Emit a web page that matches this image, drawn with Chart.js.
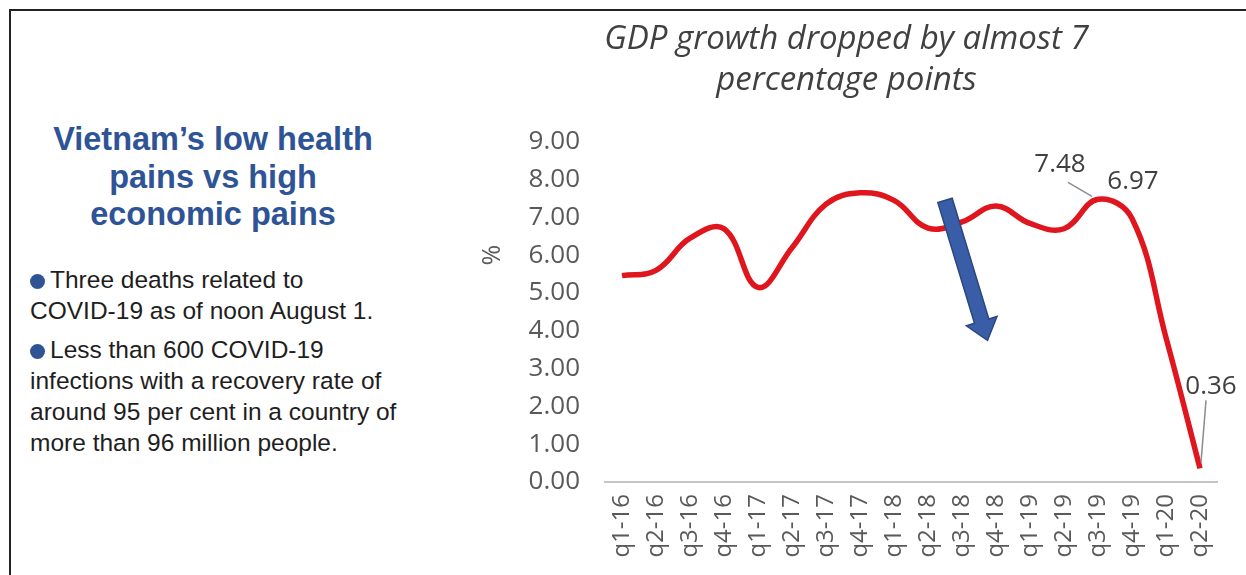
<!DOCTYPE html>
<html>
    <head>
        <meta charset="UTF-8">
        <title>Vietnam GDP growth</title>
        <style>
            body { margin: 0; background: #fff; width: 1246px; height: 575px; overflow: hidden; position: relative; }
            #frame { position: absolute; left: 9px; top: 9px; width: 1260px; height: 590px; border: 2px solid #222; box-sizing: border-box; }
            #side { position: absolute; left: 22px; top: 0; width: 400px; font-family: "Liberation Sans", Arial, sans-serif; }
            #side h2 { position: absolute; top: 121px; left: 0px; width: 382px; margin: 0; text-align: center; color: #2F5496; font-size: 32.5px; line-height: 37.5px; font-weight: bold; white-space: nowrap; }
            #side p { position: absolute; left: 8px; margin: 0; color: #1e1e1e; font-size: 24.5px; line-height: 31px; white-space: nowrap; }
            .dot { display: inline-block; width: 15px; height: 15px; border-radius: 50%; background: #2F5496; margin-right: 5px; vertical-align: -1px; }
            #wrap { position: absolute; left: 0; top: 0; width: 1246px; height: 575px; }
        </style>
    </head>
    <body>
        <div id="frame"></div>
        <div id="side">
            <h2>Vietnam’s low health<br>pains vs high<br>economic pains</h2>
            <p style="top:264px"><span class="dot"></span>Three deaths related to<br>COVID-19 as of noon August 1.</p>
            <p style="top:334px"><span class="dot"></span>Less than 600 COVID-19<br>infections with a recovery rate of<br>around 95 per cent in a country of<br>more than 96 million people.</p>
        </div>
        <div id="wrap"><canvas id="myChart" width="1246" height="575"></canvas></div>
    </body>
    <script src="https://cdn.jsdelivr.net/npm/chart.js@4.4.0/dist/chart.umd.min.js"></script>
    <script>
    var quarters = ['q1-16', 'q2-16', 'q3-16', 'q4-16', 'q1-17', 'q2-17', 'q3-17', 'q4-17', 'q1-18',
                    'q2-18', 'q3-18', 'q4-18', 'q1-19', 'q2-19', 'q3-19', 'q4-19', 'q1-20', 'q2-20']
    var gdpGrowth = [5.46, 5.6, 6.45, 6.7, 5.15, 6.2, 7.35, 7.65, 7.45,
                     6.72, 6.88, 7.3, 6.84, 6.7, 7.48, 6.97, 3.82, 0.36]
    var yTicks = [0, 1, 2, 3, 4, 5, 6, 7, 8, 9]
    var labelledPoints = [14, 15, 17]

    var grey = '#595959'

    // value labels with little leader lines, the "%" axis title and the blue arrow
    var extras = {
        id: 'extras',
        afterDatasetsDraw: function(chart) {
            var ctx = chart.ctx
            var xs = chart.scales.x, ys = chart.scales.y
            var pts = chart.getDatasetMeta(0).data

            // arrow, placed in data units
            var x0 = xs.getPixelForValue(9.5), y0 = ys.getPixelForValue(7.45)
            var x1 = xs.getPixelForValue(10.75), y1 = ys.getPixelForValue(3.75)
            var ang = Math.atan2(y1 - y0, x1 - x0)
            var len = Math.hypot(x1 - x0, y1 - y0)
            ctx.save()
            ctx.translate(x0, y0)
            ctx.rotate(ang)
            ctx.beginPath()
            ctx.moveTo(0, -7.5)
            ctx.lineTo(len - 20, -7.5)
            ctx.lineTo(len - 20, -16)
            ctx.lineTo(len, 0)
            ctx.lineTo(len - 20, 16)
            ctx.lineTo(len - 20, 7.5)
            ctx.lineTo(0, 7.5)
            ctx.closePath()
            ctx.fillStyle = '#3A5DA8'
            ctx.fill()
            ctx.strokeStyle = '#2C477F'
            ctx.lineWidth = 1.5
            ctx.stroke()
            ctx.restore()

            // "%" sits beside the 6.00 tick, not centred on the axis
            ctx.save()
            ctx.translate(493, ys.getPixelForValue(6))
            ctx.rotate(-Math.PI / 2)
            ctx.font = '25px "Open Sans"'
            ctx.fillStyle = grey
            ctx.textAlign = 'center'
            ctx.textBaseline = 'middle'
            ctx.fillText('%', 0, 0)
            ctx.restore()

            ctx.save()
            ctx.font = '26px "Open Sans"'
            ctx.fillStyle = '#404040'
            ctx.textAlign = 'center'
            ctx.textBaseline = 'middle'
            ctx.strokeStyle = '#8c8c8c'
            ctx.lineWidth = 1.5
            labelledPoints.forEach(function(i) {
                var p = pts[i]
                var txt = gdpGrowth[i].toFixed(2)
                if (i == 14) {
                    ctx.beginPath(); ctx.moveTo(p.x - 30, p.y - 17); ctx.lineTo(p.x - 6, p.y - 3); ctx.stroke()
                    ctx.fillText(txt, p.x - 38, p.y - 35)
                } else if (i == 15) {
                    ctx.fillText(txt, p.x + 1, p.y - 37)
                } else {
                    ctx.beginPath(); ctx.moveTo(p.x + 6, p.y - 68); ctx.lineTo(p.x + 1, p.y - 6); ctx.stroke()
                    ctx.fillText(txt, p.x + 11, p.y - 82)
                }
            })
            ctx.restore()
        }
    }

    var chart = new Chart(document.getElementById('myChart'), {
        type: 'line',
        data: {
            labels: quarters,
            datasets: [{
                label: 'GDP growth',
                data: gdpGrowth,
                borderColor: '#E0161E',
                borderWidth: 5.5,
                pointRadius: 0,
                tension: 0.4,
                fill: false
            }]
        },
        options: {
            responsive: false,
            animation: false,
            layout: { padding: { left: 476, right: 29, top: 10, bottom: 0 } },
            plugins: {
                legend: { display: false },
                tooltip: { enabled: false },
                title: {
                    display: true,
                    text: ['GDP growth dropped by almost 7', 'percentage points'],
                    color: '#404040',
                    font: { family: 'Open Sans', size: 33, style: 'italic', weight: 'normal', lineHeight: 1.24 },
                    padding: { top: 9, bottom: 41 }
                }
            },
            scales: {
                x: {
                    offset: true,
                    grid: { display: false, drawTicks: false },
                    border: { display: true, color: '#c4c4c4', width: 2 },
                    ticks: { color: grey, font: { family: 'Open Sans', size: 24 }, minRotation: 90, maxRotation: 90, autoSkip: false, padding: 12 },
                    afterFit: function(s) { s.height = 93 }
                },
                y: {
                    min: 0, max: 9,
                    afterBuildTicks: function(s) { s.ticks = yTicks.map(function(v) { return { value: v } }) },
                    grid: { display: false, drawTicks: false },
                    border: { display: false },
                    ticks: { color: grey, font: { family: 'Open Sans', size: 26 }, padding: 25,
                             callback: function(v) { return v.toFixed(2) } },
                    afterFit: function(s) { s.width = 129 }
                }
            }
        },
        plugins: [extras]
    })
    </script>
</html>
